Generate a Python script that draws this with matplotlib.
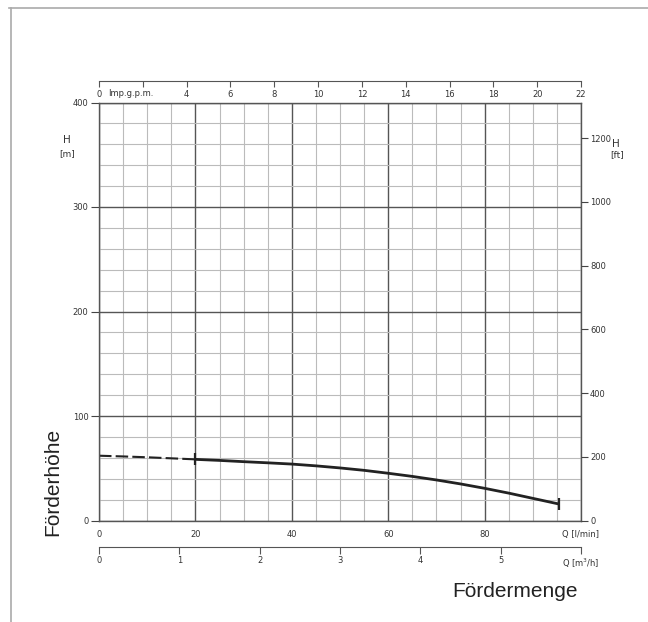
import matplotlib
matplotlib.use('Agg')
import matplotlib.pyplot as plt
from matplotlib.lines import Line2D
import numpy as np

# pump curve, Q in l/min, H in m
q_dash = [0, 5, 10, 15, 20]
h_dash = [62, 61.3, 60.5, 59.5, 58.5]
q_solid = [20, 25, 30, 35, 40, 45, 50, 55, 60, 65, 70, 75, 80, 85, 90, 95.4]
h_solid = [58.5, 57.5, 56.3, 55.2, 54, 52.3, 50.3, 48, 45.2, 42.2, 38.8, 35, 30.8, 26.2, 21.2, 15.8]

lmin_ticks = [0, 20, 40, 60, 80, 100]
lmin_labels = ['0', '20', '40', '60', '80', 'Q [l/min]']
m_ticks = [0, 100, 200, 300, 400]
ft_ticks = [0, 200, 400, 600, 800, 1000, 1200]
gpm_ticks = [0, 2, 4, 6, 8, 10, 12, 14, 16, 18, 20, 22]
gpm_labels = ['0', '', '4', '6', '8', '10', '12', '14', '16', '18', '20', '22']
m3h_ticks = [0, 1, 2, 3, 4, 5, 6]
m3h_labels = ['0', '1', '2', '3', '4', '5', 'Q [m$^3$/h]']

W, H = 648, 622
plt.rcParams['font.family'] = 'DejaVu Sans'
plt.rcParams['mathtext.default'] = 'regular'
small = 6
tcol = '#333333'

fig = plt.figure(figsize=(W / 100, H / 100), dpi=100)

# page frame (top and left edge only)
fig.add_artist(Line2D([9 / W, 1], [1 - 8 / H, 1 - 8 / H], color='#aaaaaa', lw=1.2))
fig.add_artist(Line2D([11 / W, 11 / W], [0, 1 - 8 / H], color='#aaaaaa', lw=1.2))

ax = fig.add_axes([99 / W, 1 - 520.5 / H, 482 / W, 418 / H])
ax.set_xlim(0, 100)
ax.set_ylim(0, 400)
ax.set_xticks(lmin_ticks)
ax.set_xticklabels(lmin_labels)
ax.set_xticks(np.arange(0, 101, 5), minor=True)
ax.set_yticks(m_ticks)
ax.set_yticks(np.arange(0, 401, 20), minor=True)
ax.grid(which='minor', color='#bbbbbb', lw=0.8)
ax.grid(which='major', color='#555555', lw=1.0)
ax.set_axisbelow(True)
ax.tick_params(axis='x', which='both', length=0, pad=7, labelsize=small, labelcolor=tcol)
ax.tick_params(axis='y', which='major', length=6, width=0.8, color='#444444',
               pad=1.5, labelsize=small, labelcolor=tcol)
ax.tick_params(axis='y', which='minor', length=0)
for s in ax.spines.values():
    s.set_color('#555555')
    s.set_linewidth(1.0)

ax.plot(q_dash, h_dash, color='#222222', lw=1.5, ls=(0, (6, 2)))
ax.plot(q_solid, h_solid, color='#222222', lw=2.0, solid_capstyle='butt')
ax.plot([q_solid[0], q_solid[-1]], [h_solid[0], h_solid[-1]], ls='none',
        marker='|', ms=8, mew=1.6, color='#222222')

ax2 = ax.twinx()
ax2.set_ylim(0, 400 / 0.3048)
ax2.set_yticks(ft_ticks)
ax2.tick_params(axis='y', length=5, width=0.8, color='#444444', pad=1.5,
                labelsize=small, labelcolor=tcol)
for s in ax2.spines.values():
    s.set_visible(False)

# top scale, Imp.g.p.m.
axt = fig.add_axes([99 / W, 1 - 80.7 / H, 482 / W, 0.0001])
axt.set_xlim(0, 22)
axt.set_xticks(gpm_ticks)
axt.set_xticklabels(gpm_labels)
axt.set_yticks([])
axt.patch.set_visible(False)
for k in ['top', 'left', 'right']:
    axt.spines[k].set_visible(False)
axt.spines['bottom'].set_color('#555555')
axt.tick_params(axis='x', length=4, width=0.8, color='#555555', pad=3,
                labelsize=small, labelcolor=tcol)
fig.text(131 / W, 1 - 93 / H, 'Imp.g.p.m.', ha='center', va='center',
         fontsize=small, color=tcol)

# bottom scale, m3/h
axb = fig.add_axes([99 / W, 1 - 546.7 / H, 482 / W, 0.0001])
axb.set_xlim(0, 6)
axb.set_xticks(m3h_ticks)
axb.set_xticklabels(m3h_labels)
axb.set_yticks([])
axb.patch.set_visible(False)
for k in ['top', 'left', 'right']:
    axb.spines[k].set_visible(False)
axb.spines['bottom'].set_color('#555555')
axb.tick_params(axis='x', length=5, width=0.8, color='#555555', pad=2,
                labelsize=small, labelcolor=tcol)

# unit labels
fig.text(66.7 / W, 1 - 140 / H, 'H', ha='center', va='center', fontsize=7.5, color=tcol)
fig.text(66.7 / W, 1 - 154 / H, '[m]', ha='center', va='center', fontsize=6.5, color=tcol)
fig.text(616 / W, 1 - 144 / H, 'H', ha='center', va='center', fontsize=7.5, color=tcol)
fig.text(617 / W, 1 - 155 / H, '[ft]', ha='center', va='center', fontsize=6.5, color=tcol)

fig.text(53 / W, 1 - 482 / H, 'Förderhöhe', rotation=90, ha='center', va='center',
         fontsize=15, family='Liberation Sans', color='#222222')
fig.text(515 / W, 1 - 597 / H, 'Fördermenge', ha='center', va='baseline',
         fontsize=15, family='Liberation Sans', color='#222222')

fig.savefig('out.png', dpi=100)
